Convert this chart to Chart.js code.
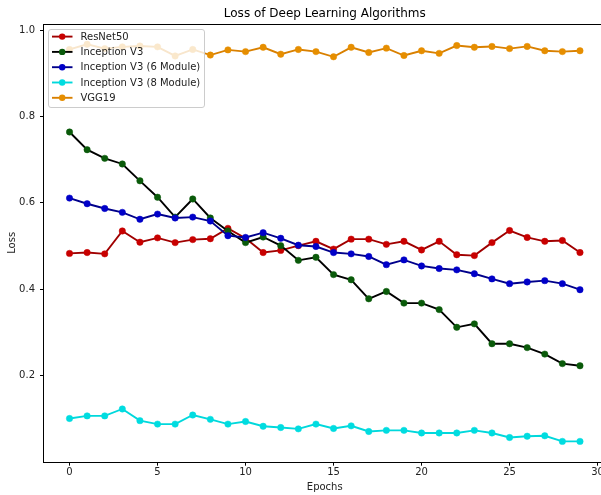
<!DOCTYPE html>
<html>
<head>
<meta charset="utf-8">
<script src="https://cdn.jsdelivr.net/npm/chart.js@4.4.1/dist/chart.umd.min.js"></script>
<style>
  html, body { margin: 0; padding: 0; background: #ffffff; overflow: hidden; }
  #wrap { width: 601px; height: 495px; overflow: hidden; position: relative; }
  canvas { display: block; }
</style>
</head>
<body>
<div id="wrap"><canvas id="c" width="612" height="495" style="width:612px;height:495px"></canvas></div>
<script>
const chartTitle = "Loss of Deep Learning Algorithms";
const xTitle = "Epochs";
const yTitle = "Loss";
const xTickValues = [0, 5, 10, 15, 20, 25, 30];
const yTickValues = [0.2, 0.4, 0.6, 0.8, 1.0];
const epochs = [0, 1, 2, 3, 4, 5, 6, 7, 8, 9, 10, 11, 12, 13, 14, 15, 16, 17, 18, 19, 20, 21, 22, 23, 24, 25, 26, 27, 28, 29];
const seriesNames = ["ResNet50", "Inception V3", "Inception V3 (6 Module)", "Inception V3 (8 Module)", "VGG19"];
const resnet50 = [0.483, 0.485, 0.482, 0.535, 0.509, 0.519, 0.508, 0.515, 0.517, 0.541, 0.518, 0.485, 0.490, 0.501, 0.511, 0.493, 0.516, 0.516, 0.504, 0.511, 0.491, 0.511, 0.480, 0.478, 0.508, 0.536, 0.520, 0.511, 0.513, 0.485];
const inceptionV3 = [0.764, 0.723, 0.703, 0.690, 0.651, 0.613, 0.567, 0.609, 0.565, 0.535, 0.508, 0.521, 0.501, 0.467, 0.474, 0.434, 0.422, 0.378, 0.395, 0.368, 0.368, 0.353, 0.312, 0.320, 0.274, 0.274, 0.265, 0.250, 0.228, 0.223];
const inceptionV3_6 = [0.611, 0.598, 0.587, 0.578, 0.562, 0.574, 0.565, 0.567, 0.558, 0.524, 0.520, 0.531, 0.518, 0.502, 0.499, 0.485, 0.482, 0.476, 0.457, 0.468, 0.454, 0.448, 0.445, 0.436, 0.424, 0.413, 0.417, 0.420, 0.413, 0.399];
const inceptionV3_8 = [0.101, 0.107, 0.107, 0.123, 0.096, 0.088, 0.088, 0.109, 0.099, 0.088, 0.094, 0.083, 0.080, 0.077, 0.088, 0.078, 0.084, 0.071, 0.0735, 0.0735, 0.0675, 0.0675, 0.0675, 0.0735, 0.0675, 0.057, 0.060, 0.061, 0.048, 0.048];
const vgg19 = [0.955, 0.967, 0.957, 0.961, 0.963, 0.961, 0.940, 0.955, 0.942, 0.954, 0.950, 0.960, 0.944, 0.955, 0.950, 0.938, 0.960, 0.948, 0.958, 0.941, 0.952, 0.946, 0.964, 0.960, 0.962, 0.957, 0.962, 0.952, 0.950, 0.952];

const seriesValues = [resnet50, inceptionV3, inceptionV3_6, inceptionV3_8, vgg19];
const lineColors = ["#a00000", "#000000", "#00008b", "#00d8dc", "#d98000"];
const markerColors = ["#c80000", "#0a5a0a", "#0000c8", "#00dce0", "#e68e00"];

const FONT = "'DejaVu Sans', sans-serif";
const TEXT = "#222222";

const datasets = seriesNames.map((name, i) => ({
  label: name,
  data: epochs.map((e, k) => ({ x: e, y: seriesValues[i][k] })),
  borderColor: lineColors[i],
  backgroundColor: markerColors[i],
  pointBackgroundColor: markerColors[i],
  pointBorderColor: markerColors[i],
  pointBorderWidth: 0.5,
  pointRadius: 3.2,
  borderWidth: 1.9,
  tension: 0,
  fill: false,
  order: seriesNames.length - i
}));

const framePlugin = {
  id: 'frame',
  afterDraw(chart) {
    const ctx = chart.ctx;
    const a = chart.chartArea;
    ctx.save();
    ctx.strokeStyle = '#000000';
    ctx.lineWidth = 1;
    ctx.strokeRect(Math.round(a.left) - 0.5, Math.round(a.top) + 0.5, Math.round(a.right - a.left), Math.round(a.bottom - a.top));
    // title
    ctx.fillStyle = '#000000';
    ctx.font = "12px " + FONT;
    ctx.textAlign = 'center';
    ctx.textBaseline = 'middle';
    ctx.fillText(chartTitle, (a.left + a.right) / 2, 13.5);
    // legend
    const bx = 48.5, by = 29.5, bw = 156, bh = 78;
    ctx.beginPath();
    ctx.roundRect(bx, by, bw, bh, 2.5);
    ctx.fillStyle = 'rgba(255,255,255,0.8)';
    ctx.fill();
    ctx.strokeStyle = '#cccccc';
    ctx.lineWidth = 1;
    ctx.stroke();
    ctx.font = "10px " + FONT;
    ctx.textAlign = 'left';
    ctx.textBaseline = 'middle';
    chart.data.datasets.forEach((ds, i) => {
      const y = 36.6 + i * 15.3;
      ctx.beginPath();
      ctx.moveTo(52, y);
      ctx.lineTo(72.5, y);
      ctx.strokeStyle = ds.borderColor;
      ctx.lineWidth = 1.9;
      ctx.stroke();
      ctx.beginPath();
      ctx.arc(62.2, y, 3.2, 0, Math.PI * 2);
      ctx.fillStyle = ds.pointBackgroundColor;
      ctx.fill();
      ctx.fillStyle = TEXT;
      ctx.fillText(ds.label, 80.5, y + 0.5);
    });
    ctx.restore();
  }
};

new Chart(document.getElementById('c'), {
  type: 'line',
  data: { datasets },
  options: {
    responsive: false,
    devicePixelRatio: 1,
    animation: false,
    layout: { padding: { left: 0, top: 24, right: 6.5, bottom: 0 } },
    plugins: {
      legend: { display: false },
      title: { display: false },
      tooltip: { enabled: false }
    },
    scales: {
      x: {
        type: 'linear',
        min: -1.45,
        max: 30.45,
        afterFit: (s) => { s.height = 33.3; },
        afterBuildTicks: (s) => { s.ticks = xTickValues.map(v => ({ value: v })); },
        border: { display: false },
        grid: { display: true, drawOnChartArea: false, drawTicks: true, tickLength: 4, tickColor: '#000000', color: '#000000', lineWidth: 1 },
        ticks: { color: TEXT, font: { family: FONT, size: 10 }, padding: 1, maxRotation: 0, autoSkip: false },
        title: { display: true, text: xTitle, color: TEXT, font: { family: FONT, size: 10 }, padding: { top: 0, bottom: 2 } }
      },
      y: {
        type: 'linear',
        min: 0.001,
        max: 1.0139,
        afterFit: (s) => { s.width = 44; },
        afterBuildTicks: (s) => { s.ticks = yTickValues.map(v => ({ value: v })); },
        border: { display: false },
        grid: { display: true, drawOnChartArea: false, drawTicks: true, tickLength: 4, tickColor: '#000000', color: '#000000', lineWidth: 1 },
        ticks: { color: TEXT, font: { family: FONT, size: 10 }, padding: 5, callback: (v) => Number(v).toFixed(1) },
        title: { display: true, text: yTitle, color: TEXT, font: { family: FONT, size: 10 }, padding: { top: 6, bottom: 0 } }
      }
    }
  },
  plugins: [framePlugin]
});
</script>
</body>
</html>
